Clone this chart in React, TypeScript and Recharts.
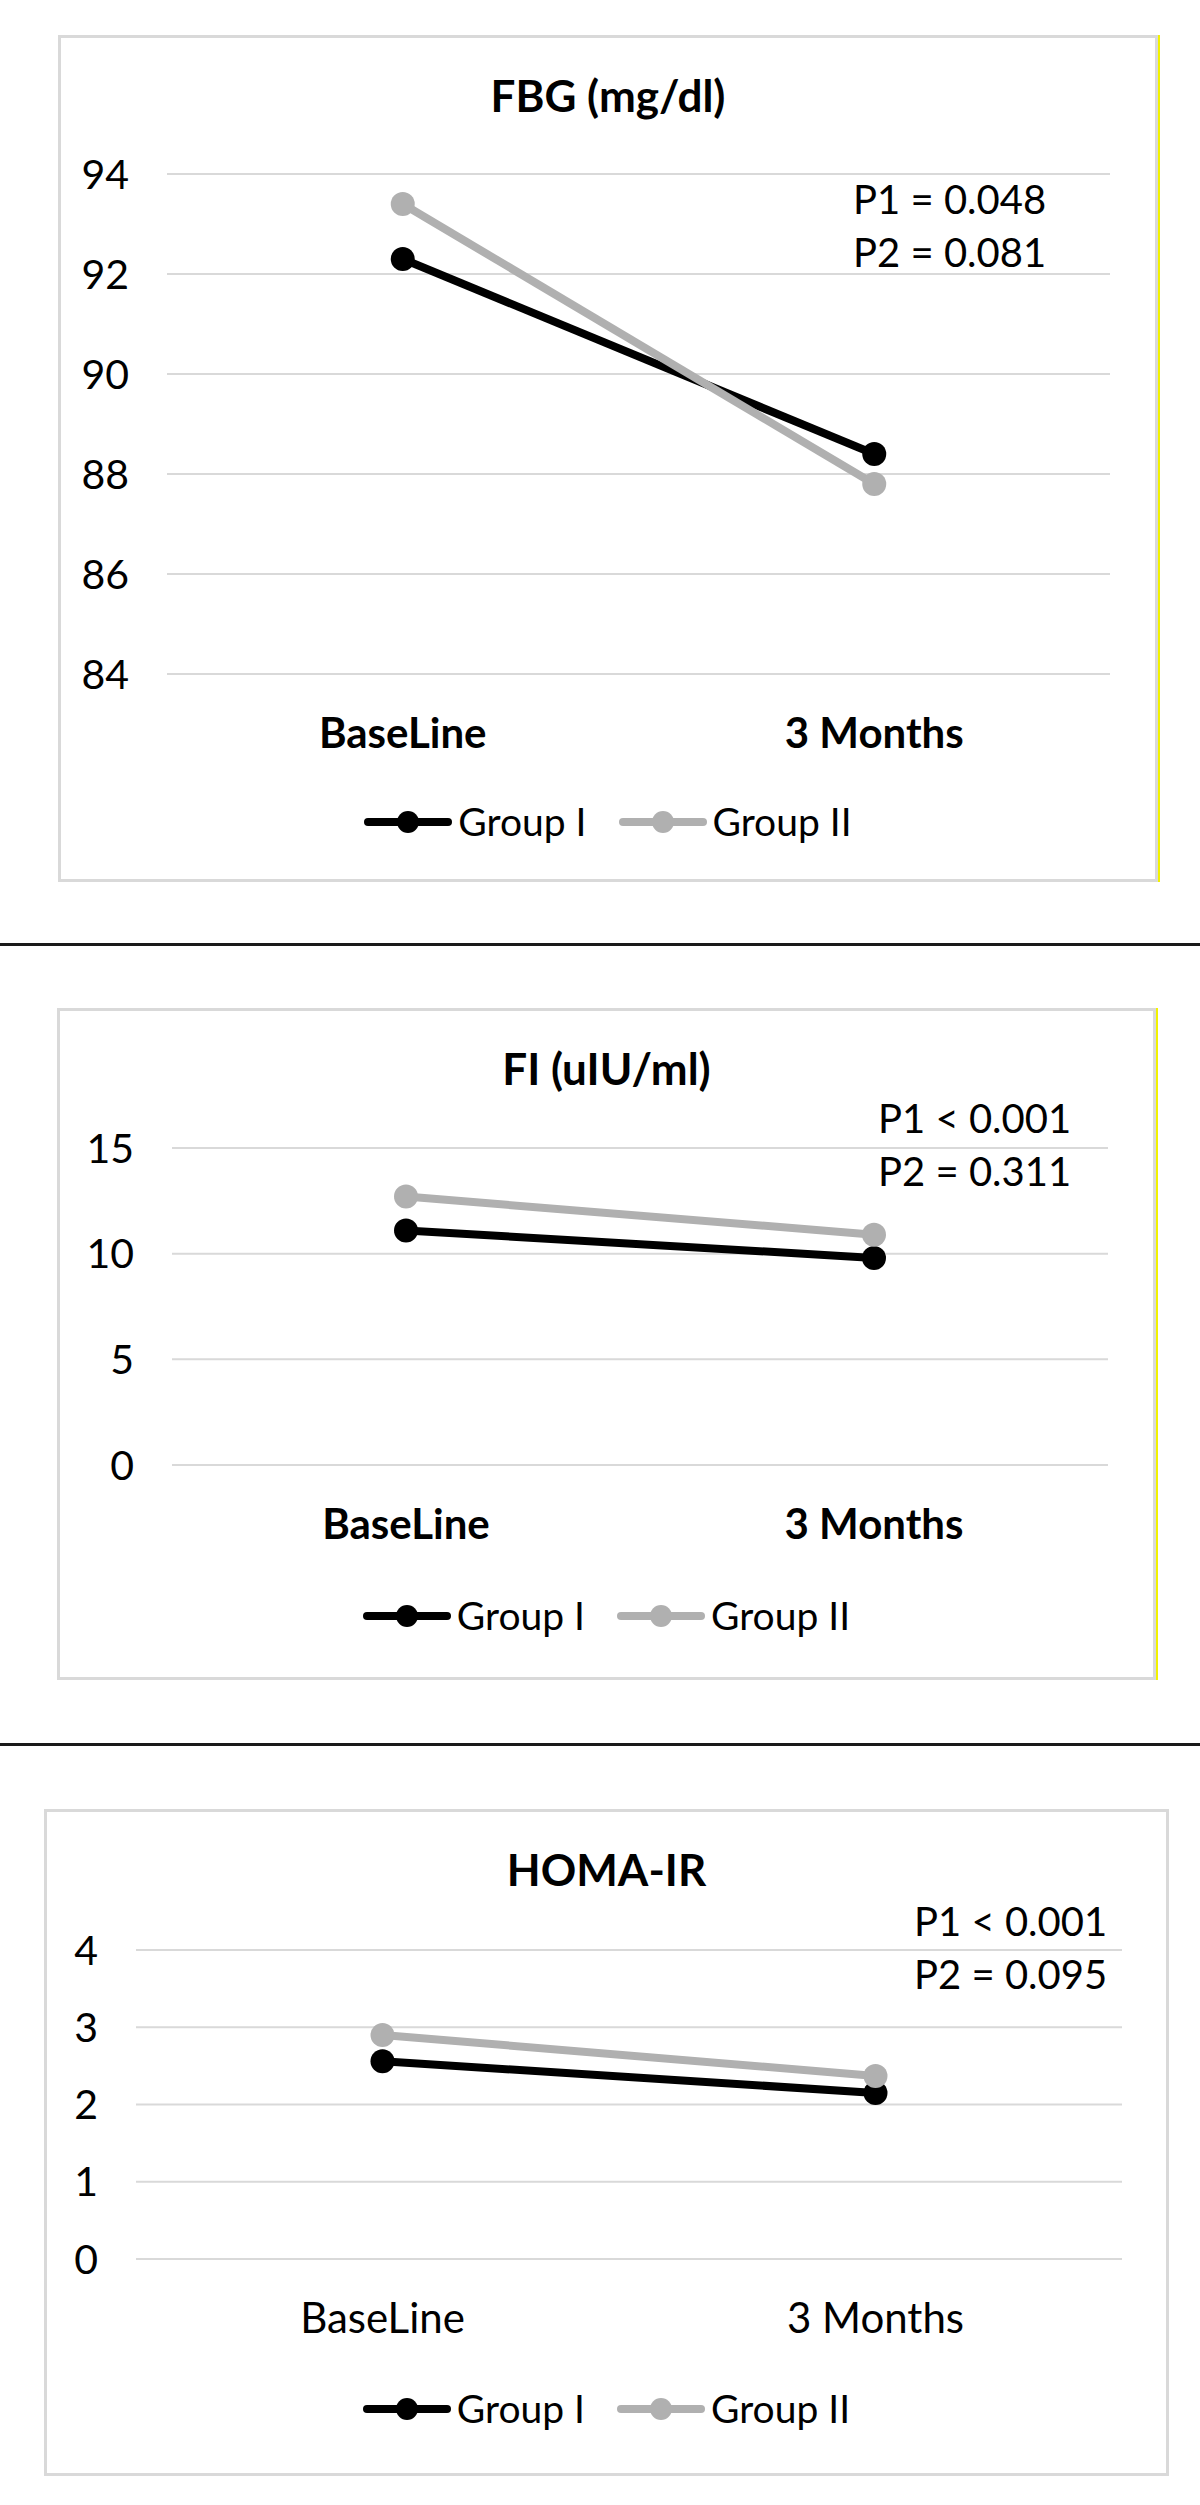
import React from "react";
import { LineChart, Line, XAxis, YAxis, CartesianGrid } from "recharts";

const categories = ["BaseLine", "3 Months"];
const seriesNames = ["Group I", "Group II"];
const seriesColors = ["#000000", "#b0b0b0"];

const fbgGroup1 = [92.3, 88.4];
const fbgGroup2 = [93.4, 87.8];
const fbgTicks = [84, 86, 88, 90, 92, 94];
const fbgP = ["P1 = 0.048", "P2 = 0.081"];

const fiGroup1 = [11.1, 9.8];
const fiGroup2 = [12.7, 10.9];
const fiTicks = [0, 5, 10, 15];
const fiP = ["P1 < 0.001", "P2 = 0.311"];

const homaGroup1 = [2.56, 2.15];
const homaGroup2 = [2.9, 2.37];
const homaTicks = [0, 1, 2, 3, 4];
const homaP = ["P1 < 0.001", "P2 = 0.095"];

const FONT = "Lato, 'Open Sans', sans-serif";
const TITLE_FS = 44;
const TICK_FS = 41;
const CAT_FS = 42;
const P_FS = 40;
const LEG_FS = 39;
const YAXIS_W = 120;
const XAXIS_H = 80;

function buildRows(g1: number[], g2: number[]) {
  return categories.map((name, i) => ({ name, g1: g1[i], g2: g2[i] }));
}

// top of a one-line box whose cap centre sits at y
const topFor = (y: number, fs: number) => y - fs * 0.53;

function LegendIcon({ color }: { color: string }) {
  return (
    <svg width={88} height={26} style={{ display: "block" }}>
      <line x1={4} y1={13} x2={84} y2={13} stroke={color} strokeWidth={8} strokeLinecap="round" />
      <circle cx={44} cy={13} r={11} fill={color} />
    </svg>
  );
}

function Panel(props: any) {
  const { title, pText, g1, g2, ticks, boldCats, box, plot, titleY, pX, pY, legendY, yellow } = props;
  const regionTop = box.t - 10;
  const regionH = box.b - box.t + 20;
  const data = buildRows(g1, g2);
  const pad = (plot.r - plot.l) / 4;
  return (
    <div style={{ position: "absolute", left: 0, top: regionTop, width: 1200, height: regionH }}>
      <div
        style={{
          position: "absolute",
          left: box.l,
          top: 10,
          width: box.r - box.l,
          height: box.b - box.t,
          border: "3px solid #d9d9d9",
          boxSizing: "border-box",
          boxShadow: yellow ? "2px 0 0 #f2f200" : "none",
        }}
      />
      <div style={{ position: "absolute", left: 0, top: 0 }}>
        <LineChart
          width={1200}
          height={regionH}
          data={data}
          margin={{
            top: plot.t - regionTop,
            bottom: regionTop + regionH - plot.b - XAXIS_H,
            left: plot.l - YAXIS_W,
            right: 1200 - plot.r,
          }}
        >
          <CartesianGrid vertical={false} stroke="#d9d9d9" strokeWidth={2} />
          <XAxis
            dataKey="name"
            height={XAXIS_H}
            axisLine={false}
            tickLine={false}
            interval={0}
            tickMargin={38}
            padding={{ left: pad, right: pad }}
            tick={{ fill: "#000", fontSize: CAT_FS, fontFamily: FONT, fontWeight: boldCats ? 700 : 400 }}
          />
          <YAxis
            width={YAXIS_W}
            domain={[ticks[0], ticks[ticks.length - 1]]}
            ticks={ticks}
            axisLine={false}
            tickLine={false}
            tickMargin={32}
            tick={{ fill: "#000", fontSize: TICK_FS, fontFamily: FONT }}
          />
          <Line
            type="linear"
            dataKey="g1"
            name={seriesNames[0]}
            stroke={seriesColors[0]}
            strokeWidth={8}
            dot={{ r: 12, fill: seriesColors[0], stroke: seriesColors[0], strokeWidth: 0 }}
            activeDot={false}
            isAnimationActive={false}
          />
          <Line
            type="linear"
            dataKey="g2"
            name={seriesNames[1]}
            stroke={seriesColors[1]}
            strokeWidth={8}
            dot={{ r: 12, fill: seriesColors[1], stroke: seriesColors[1], strokeWidth: 0 }}
            activeDot={false}
            isAnimationActive={false}
          />
        </LineChart>
      </div>
      <div
        style={{
          position: "absolute",
          left: box.l,
          width: box.r - box.l,
          top: topFor(titleY, TITLE_FS) - regionTop,
          textAlign: "center",
          fontSize: TITLE_FS,
          lineHeight: `${TITLE_FS}px`,
          fontWeight: 700,
          fontFamily: FONT,
        }}
      >
        {title}
      </div>
      {pText.map((t: string, i: number) => (
        <div
          key={t}
          style={{
            position: "absolute",
            left: pX,
            top: topFor(pY[i], P_FS) - regionTop,
            fontSize: P_FS,
            lineHeight: `${P_FS}px`,
            fontFamily: FONT,
            whiteSpace: "nowrap",
          }}
        >
          {t}
        </div>
      ))}
      <div
        style={{
          position: "absolute",
          left: box.l,
          width: box.r - box.l,
          top: topFor(legendY, LEG_FS) - regionTop,
          display: "flex",
          justifyContent: "center",
          alignItems: "center",
          gap: 32,
          fontSize: LEG_FS,
          lineHeight: `${LEG_FS}px`,
          fontFamily: FONT,
        }}
      >
        {seriesNames.map((n, i) => (
          <div key={n} style={{ display: "flex", alignItems: "center", gap: 6 }}>
            <LegendIcon color={seriesColors[i]} />
            <span>{n}</span>
          </div>
        ))}
      </div>
    </div>
  );
}

export default function App() {
  return (
    <div style={{ position: "absolute", left: 0, top: 0, width: 1200, height: 2505, background: "#fff", overflow: "hidden" }}>
      <Panel
        title="FBG (mg/dl)"
        pText={fbgP}
        g1={fbgGroup1}
        g2={fbgGroup2}
        ticks={fbgTicks}
        boldCats
        yellow
        box={{ l: 58, t: 35, r: 1158, b: 882 }}
        plot={{ l: 167, r: 1110, t: 174, b: 674 }}
        titleY={96}
        pX={853}
        pY={[200, 253]}
        legendY={823}
      />
      <div style={{ position: "absolute", left: 0, top: 943, width: 1200, height: 3, background: "#1a1a1a" }} />
      <Panel
        title="FI (uIU/ml)"
        pText={fiP}
        g1={fiGroup1}
        g2={fiGroup2}
        ticks={fiTicks}
        boldCats
        yellow
        box={{ l: 57, t: 1008, r: 1156, b: 1680 }}
        plot={{ l: 172, r: 1108, t: 1148, b: 1465 }}
        titleY={1069}
        pX={878}
        pY={[1119, 1172]}
        legendY={1617}
      />
      <div style={{ position: "absolute", left: 0, top: 1743, width: 1200, height: 3, background: "#1a1a1a" }} />
      <Panel
        title="HOMA-IR"
        pText={homaP}
        g1={homaGroup1}
        g2={homaGroup2}
        ticks={homaTicks}
        boldCats={false}
        yellow={false}
        box={{ l: 44, t: 1809, r: 1169, b: 2476 }}
        plot={{ l: 136, r: 1122, t: 1950, b: 2259 }}
        titleY={1870}
        pX={914}
        pY={[1922, 1975]}
        legendY={2410}
      />
    </div>
  );
}
